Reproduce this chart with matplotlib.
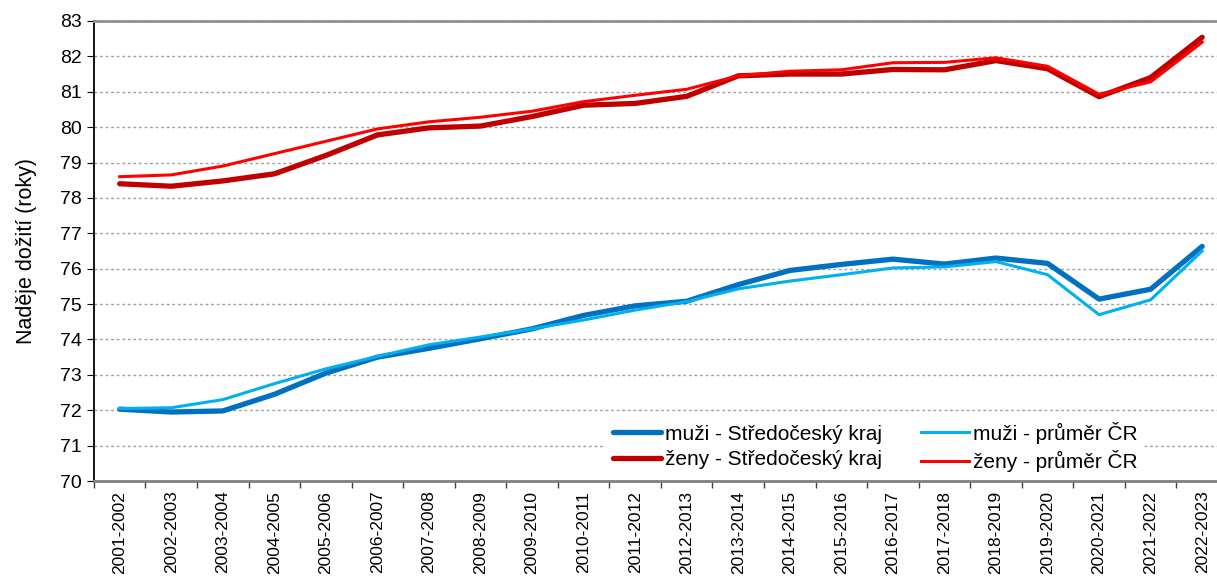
import numpy as np
import matplotlib.pyplot as plt
from matplotlib.ticker import FixedLocator

plt.rcParams['font.family'] = ['Liberation Sans', 'DejaVu Sans']

# období
roky = ['2001-2002', '2002-2003', '2003-2004', '2004-2005', '2005-2006', '2006-2007',
        '2007-2008', '2008-2009', '2009-2010', '2010-2011', '2011-2012', '2012-2013',
        '2013-2014', '2014-2015', '2015-2016', '2016-2017', '2017-2018', '2018-2019',
        '2019-2020', '2020-2021', '2021-2022', '2022-2023']

muzi_kraj = [72.03, 71.95, 71.98, 72.45, 73.05, 73.50, 73.75, 74.02, 74.30, 74.68, 74.95,
             75.08, 75.55, 75.95, 76.12, 76.27, 76.13, 76.30, 76.15, 75.14, 75.42, 76.63]
muzi_cr = [72.05, 72.07, 72.30, 72.75, 73.17, 73.52, 73.85, 74.07, 74.30, 74.55, 74.83,
           75.07, 75.43, 75.65, 75.83, 76.02, 76.05, 76.20, 75.83, 74.70, 75.12, 76.50]
zeny_kraj = [78.40, 78.33, 78.48, 78.68, 79.20, 79.78, 79.98, 80.03, 80.30, 80.62, 80.67,
             80.87, 81.45, 81.50, 81.50, 81.63, 81.62, 81.88, 81.65, 80.86, 81.40, 82.54]
zeny_cr = [78.60, 78.65, 78.90, 79.25, 79.60, 79.95, 80.15, 80.28, 80.45, 80.72, 80.90,
           81.07, 81.45, 81.58, 81.62, 81.82, 81.83, 81.96, 81.72, 80.93, 81.28, 82.40]

x = np.arange(len(roky))

fig = plt.figure(figsize=(12.17, 5.81), dpi=100)
ax = fig.add_axes([0.0772, 0.1721, 0.9318, 0.7918])

ax.plot(x, muzi_kraj, color='#0070C0', lw=3.8, solid_capstyle='round', label='muži - Středočeský kraj', zorder=3)
ax.plot(x, zeny_kraj, color='#C00000', lw=3.8, solid_capstyle='round', label='ženy - Středočeský kraj', zorder=3)
ax.plot(x, muzi_cr, color='#00B0F0', lw=2.2, label='muži - průměr ČR', zorder=4)
ax.plot(x, zeny_cr, color='#FF0000', lw=2.2, label='ženy - průměr ČR', zorder=4)

ax.set_xlim(-0.5, len(roky) - 0.5)
ax.set_ylim(70, 83)
ax.set_yticks(range(70, 84))
ax.set_xticks(x)
ax.set_xticklabels(roky, rotation=90, fontsize=12.5)
ax.xaxis.set_minor_locator(FixedLocator(np.arange(-0.5, len(roky), 1)))
ax.tick_params(axis='x', which='major', length=0, pad=7)
ax.tick_params(axis='x', which='minor', length=5, color='#404040', width=1)
ax.tick_params(axis='y', length=5, labelsize=14, pad=4)

ax.grid(axis='y', linestyle=(0, (2, 2)), color='#A0A0A0', lw=1)
ax.set_axisbelow(True)

ax.spines['right'].set_color('none')
ax.spines['top'].set_color('#909090')
ax.spines['top'].set_linewidth(2)
ax.spines['bottom'].set_color('#808080')
ax.spines['bottom'].set_linewidth(2)
ax.spines['left'].set_color('black')
ax.spines['left'].set_linewidth(1.3)

ax.set_ylabel('Naděje dožití (roky)', fontsize=15.5, labelpad=16)

leg = ax.legend(ncol=2, loc='center', bbox_to_anchor=(0.689, 0.074), fontsize=15,
                frameon=True, framealpha=1, edgecolor='white', fancybox=False,
                handlelength=2.3, columnspacing=1.9, handletextpad=0.2, borderpad=0.3,
                labelspacing=0.33)
leg.get_frame().set_linewidth(0)

fig.savefig('out.png', dpi=100)
